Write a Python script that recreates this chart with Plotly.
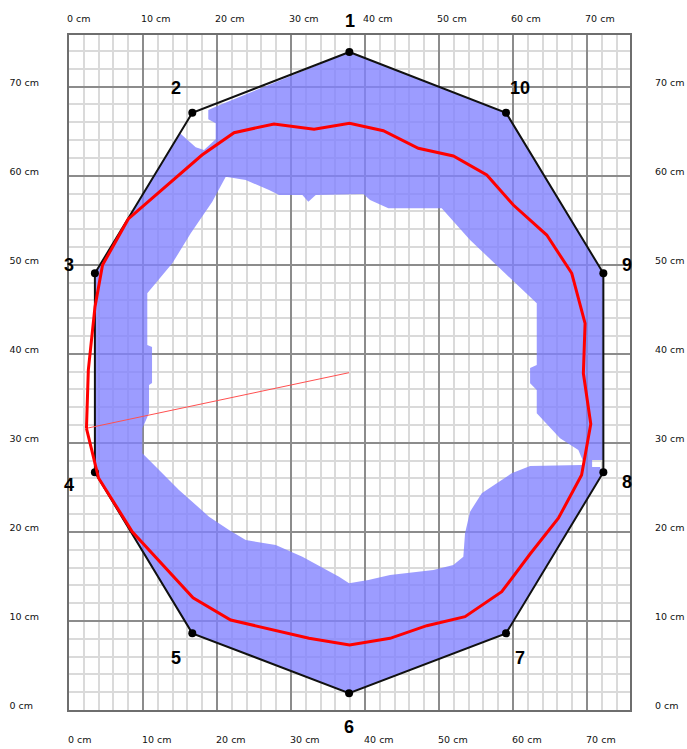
import plotly.graph_objects as go

# ---- data (cm) ----
tick_vals = [0, 10, 20, 30, 40, 50, 60, 70]
tick_text = ["0 cm", "10 cm", "20 cm", "30 cm", "40 cm", "50 cm", "60 cm", "70 cm"]
tick_text_left = ["0 cm\u2007", "10 cm", "20 cm", "30 cm", "40 cm", "50 cm", "60 cm", "70 cm"]
axis_range = [0, 75.8]

# measurement polygon (points 1..10)
poly_labels = ["1", "2", "3", "4", "5", "6", "7", "8", "9", "10"]
poly_x = [37.88, 16.66, 3.50, 3.50, 16.66, 37.84, 59.05, 72.20, 72.20, 59.05]
poly_y = [73.89, 67.07, 49.04, 26.69, 8.61, 1.88, 8.61, 26.69, 49.04, 67.07]
label_x = [37.93, 14.42, 0.04, 0.04, 14.46, 37.80, 60.95, 75.36, 75.36, 60.95]
label_y = [77.40, 69.88, 49.97, 25.27, 5.80, -1.87, 5.80, 25.64, 50.00, 69.80]

# shaded region: outer boundary and inner hole
outer_x = [3.61, 15.00, 17.12, 18.24, 19.82, 19.82, 18.82, 18.82, 20.04, 37.88,
           59.05, 72.20, 72.20, 70.68, 70.68, 71.76, 71.96, 59.05, 37.84, 16.66, 3.47]
outer_y = [49.04, 64.76, 63.19, 62.89, 64.09, 65.88, 66.33, 67.38, 67.83, 73.89,
           67.07, 49.04, 28.07, 28.07, 27.29, 27.29, 26.50, 8.61, 1.88, 8.61, 26.69]
inner_x = [10.58, 10.58, 11.22, 11.22, 10.81, 10.81, 9.91, 9.91, 11.26, 14.86,
           18.92, 21.62, 23.88, 27.93, 31.53, 36.49, 37.84, 40.45, 43.38, 49.23,
           51.93, 53.28, 53.51, 54.19, 55.77, 59.82, 62.30, 69.28, 69.50, 68.82,
           66.35, 63.20, 63.20, 62.30, 62.30, 63.20, 63.20, 59.59, 54.19, 50.36,
           43.15, 40.68, 39.77, 33.34, 32.34, 31.53, 28.38, 27.03, 23.88, 21.18,
           19.36, 16.45, 13.96]
inner_y = [46.79, 40.99, 40.76, 36.72, 36.50, 33.32, 31.63, 28.83, 27.70, 24.71,
           21.71, 20.21, 19.09, 18.53, 17.21, 14.97, 14.23, 14.60, 15.16, 15.72,
           16.28, 17.21, 19.84, 22.27, 24.33, 26.58, 27.40, 27.51, 27.88, 29.20,
           30.51, 33.32, 35.93, 36.69, 38.41, 38.74, 45.67, 48.48, 52.78, 56.34,
           56.34, 57.27, 57.95, 57.83, 57.08, 57.83, 57.83, 58.39, 59.52, 59.89,
           57.08, 53.53, 50.16]

# red contour
red_x = [2.36, 2.61, 3.51, 4.53, 8.01, 17.97, 22.30, 27.70, 33.11, 37.91,
         42.47, 47.20, 51.93, 56.45, 60.04, 64.55, 67.93, 69.73, 69.50, 70.50,
         69.26, 66.12, 62.30, 58.47, 53.51, 48.34, 43.38, 37.91, 32.43, 21.85,
         16.76, 8.55, 3.99, 3.28]
red_y = [31.63, 38.18, 45.26, 49.97, 55.14, 62.32, 64.83, 65.81, 65.21, 65.88,
         65.05, 63.08, 62.21, 60.08, 56.71, 53.34, 49.04, 43.42, 37.81, 32.12,
         26.39, 21.53, 17.52, 13.28, 10.48, 9.47, 8.05, 7.30, 8.05, 10.11,
         12.61, 20.02, 26.05, 28.44]

# radius line from centre
ray_x = [37.84, 2.36]
ray_y = [37.88, 31.63]

# ---- figure ----
fig = go.Figure()

fig.add_trace(go.Scatter(
    x=outer_x + [outer_x[0], None] + inner_x + [inner_x[0]],
    y=outer_y + [outer_y[0], None] + inner_y + [inner_y[0]],
    mode="lines", fill="toself", fillcolor="rgba(128,128,255,0.78)",
    line=dict(width=0), hoverinfo="skip", showlegend=False))

fig.add_trace(go.Scatter(
    x=poly_x + [poly_x[0]], y=poly_y + [poly_y[0]],
    mode="lines", line=dict(color="#111111", width=2),
    hoverinfo="skip", showlegend=False))

fig.add_trace(go.Scatter(
    x=poly_x, y=poly_y, mode="markers",
    marker=dict(color="#000000", size=8),
    hoverinfo="skip", showlegend=False))

fig.add_trace(go.Scatter(
    x=ray_x, y=ray_y, mode="lines",
    line=dict(color="#ff5050", width=1),
    hoverinfo="skip", showlegend=False))

fig.add_trace(go.Scatter(
    x=red_x + [red_x[0]], y=red_y + [red_y[0]],
    mode="lines", line=dict(color="#ff0000", width=3),
    hoverinfo="skip", showlegend=False))

# invisible trace for secondary axes
fig.add_trace(go.Scatter(x=[None], y=[None], xaxis="x2", yaxis="y2",
                         showlegend=False, hoverinfo="skip"))

# point labels (y given relative to the y-axis domain so labels outside the range still show)
label_font = dict(family="Liberation Sans Narrow, Liberation Sans, Arial", size=18,
                  color="#000000", weight="bold")
span = axis_range[1] - axis_range[0]
for lx, ly, lt in zip(label_x, label_y, poly_labels):
    fig.add_annotation(x=lx, y=(ly - axis_range[0]) / span, xref="x", yref="y domain",
                       text=lt, showarrow=False,
                       xanchor="center", yanchor="middle", font=label_font)

# reference line at 50 cm
fig.add_shape(type="line", xref="x", yref="y", x0=axis_range[0], x1=axis_range[1],
              y0=50, y1=50, line=dict(color="#000000", width=1.5), layer="below")

tick_font = dict(family="DejaVu Sans", size=9.5, color="#111111")
minor = dict(dtick=2, showgrid=True, gridcolor="#dadada", gridwidth=2, ticks="")

fig.update_layout(
    width=687, height=749,
    margin=dict(l=69, r=57, t=35, b=39),
    paper_bgcolor="white", plot_bgcolor="white",
    showlegend=False,
    xaxis=dict(range=axis_range, tickmode="array", tickvals=tick_vals, ticktext=tick_text,
               ticklabelposition="outside right", ticklabelstandoff=20, ticklabelshift=-2,
               automargin=False,
               showgrid=True, gridcolor="#8c8c8c", gridwidth=1.6, minor=minor,
               zeroline=False, showline=True, mirror=True, linecolor="#6e6e6e", linewidth=2,
               ticks="", tickfont=tick_font, fixedrange=True),
    xaxis2=dict(range=axis_range, overlaying="x", side="top", anchor="y",
                tickmode="array", tickvals=tick_vals, ticktext=tick_text,
                ticklabelposition="outside right", ticklabelstandoff=10, ticklabelshift=-2,
                automargin=False,
                showgrid=False, zeroline=False, showline=False, ticks="",
                tickfont=tick_font, fixedrange=True),
    yaxis=dict(range=axis_range, tickmode="array", tickvals=tick_vals, ticktext=tick_text_left,
               ticklabelstandoff=26, ticklabelshift=-4, automargin=False,
               showgrid=True, gridcolor="#8c8c8c", gridwidth=1.6, minor=minor,
               zeroline=False, showline=True, mirror=True, linecolor="#6e6e6e", linewidth=2,
               ticks="", tickfont=tick_font, fixedrange=True),
    yaxis2=dict(range=axis_range, overlaying="y", side="right", anchor="x",
                tickmode="array", tickvals=tick_vals, ticktext=tick_text,
                ticklabelstandoff=24, ticklabelshift=-4, automargin=False,
                showgrid=False, zeroline=False, showline=False, ticks="",
                tickfont=tick_font, fixedrange=True),
)

fig.write_html("out.html")
